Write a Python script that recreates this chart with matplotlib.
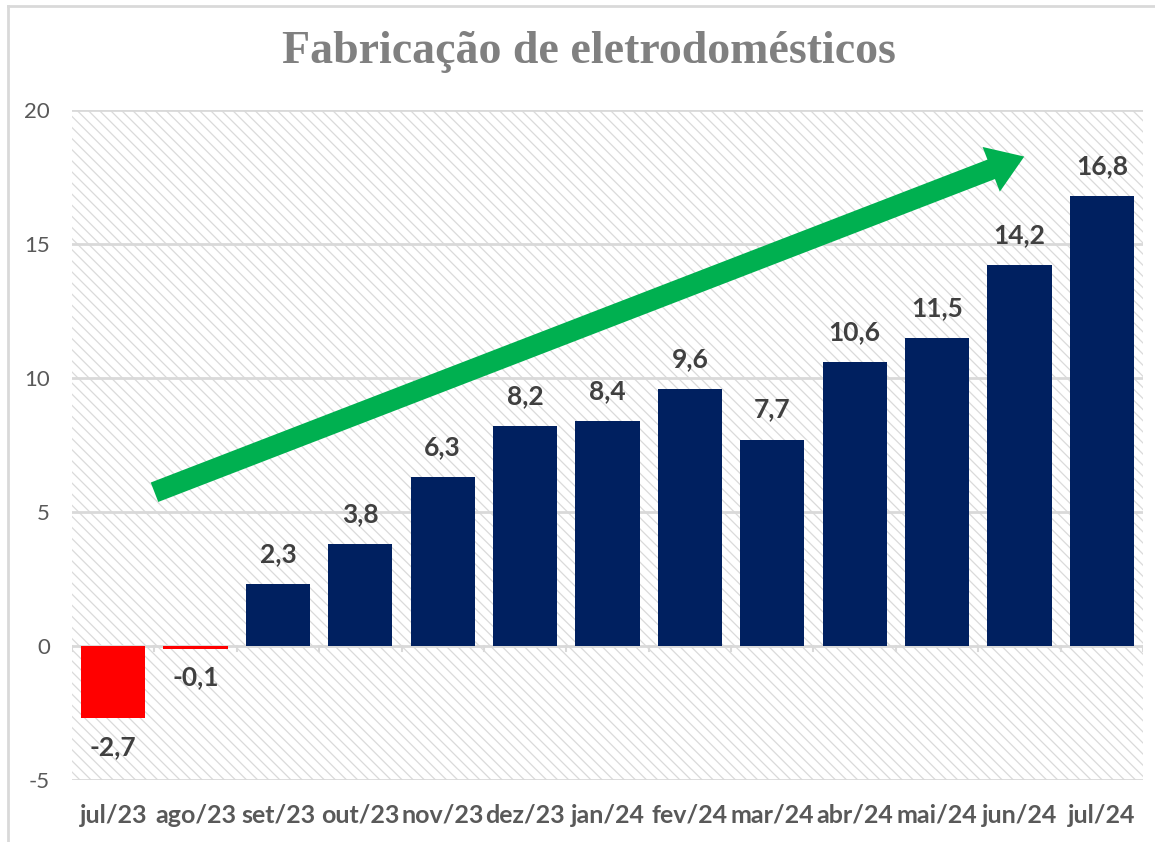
import numpy as np
import matplotlib
matplotlib.use('Agg')
import matplotlib.pyplot as plt
from matplotlib.patches import Rectangle, FancyArrowPatch
from matplotlib.lines import Line2D

meses = ['jul/23', 'ago/23', 'set/23', 'out/23', 'nov/23', 'dez/23', 'jan/24',
         'fev/24', 'mar/24', 'abr/24', 'mai/24', 'jun/24', 'jul/24']
valores = [-2.7, -0.1, 2.3, 3.8, 6.3, 8.2, 8.4, 9.6, 7.7, 10.6, 11.5, 14.2, 16.8]
yticks = [-5, 0, 5, 10, 15, 20]

# seta de tendência (coordenadas de dados)
seta_ini = (0.47, 5.7)
seta_fim = (11.09, 18.3)

plt.rcParams['font.family'] = ['Lato', 'DejaVu Sans']
plt.rcParams['hatch.linewidth'] = 0.9
plt.rcParams['axes.unicode_minus'] = False

cinza = '#595959'
grade = '#D9D9D9'

fig = plt.figure(figsize=(11.55, 8.42), dpi=100)
ax = fig.add_axes([72/1155, 1 - 780/842, (1143-72)/1155, (780-110)/842])

# fundo hachurado
ax.add_patch(Rectangle((0, 0), 1, 1, transform=ax.transAxes, facecolor='white',
                       edgecolor='#DADADA', lw=0, hatch='\\\\\\', zorder=0))

for y in yticks:
    ax.axhline(y, color=grade, lw=2, zorder=0.5)

x = np.arange(len(meses))
cores = ['#FF0000' if v < 0 else '#002060' for v in valores]
ax.bar(x, valores, width=0.78, color=cores, zorder=2)

# marcas do eixo de categorias em y=0
for b in np.arange(len(meses) + 1) - 0.5:
    ax.plot([b, b], [0, -0.2], color=grade, lw=1.5, zorder=1)

for xi, v in zip(x, valores):
    txt = f'{v:.1f}'.replace('.', ',')
    if v >= 0:
        ax.annotate(txt, (xi, v), xytext=(0, 13), textcoords='offset points',
                    ha='center', va='bottom', fontsize=19, fontweight='bold',
                    color='#404040', zorder=3)
    else:
        ax.annotate(txt, (xi, v), xytext=(0, -12), textcoords='offset points',
                    ha='center', va='top', fontsize=19, fontweight='bold',
                    color='#404040', zorder=3)

ax.add_patch(FancyArrowPatch(seta_ini, seta_fim,
                             arrowstyle='simple,head_length=1.7,head_width=2.3,tail_width=1.0',
                             mutation_scale=15, color='#00B050', lw=0, zorder=4))

ax.set_xlim(-0.5, len(meses) - 0.5)
ax.set_ylim(-5, 20)
ax.set_yticks(yticks)
ax.set_xticks(x)
ax.set_xticklabels(meses, fontsize=18, fontweight='bold', color=cinza)
ax.tick_params(axis='x', length=0, pad=17)
ax.tick_params(axis='y', length=0, pad=16, labelsize=16, labelcolor=cinza)
for s in ax.spines.values():
    s.set_visible(False)

fig.text(0.51, 0.938, 'Fabricação de eletrodomésticos', ha='center', va='center',
         fontsize=33, fontweight='bold', color='#808080',
         family=['Liberation Serif', 'DejaVu Serif'])

# borda do gráfico
fig.add_artist(Line2D([8/1155, 8/1155], [0, 1 - 6/842], color=grade, lw=2))
fig.add_artist(Line2D([8/1155, 1], [1 - 6/842, 1 - 6/842], color=grade, lw=2))

fig.savefig('out.png', dpi=100)
